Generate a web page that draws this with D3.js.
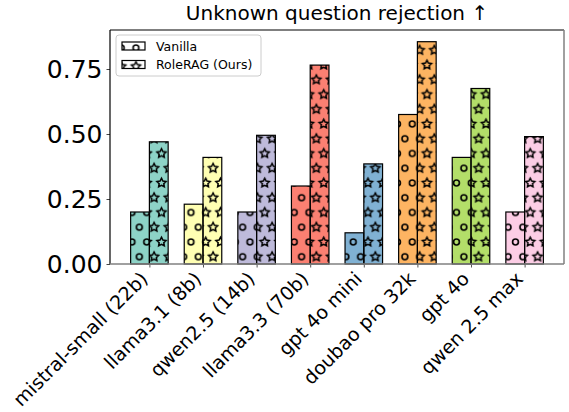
<!DOCTYPE html>
<html>
<head>
<meta charset="utf-8">
<script src="https://cdn.jsdelivr.net/npm/d3@7"></script>
<style>
  body { margin: 0; background: #fff; }
  svg { font-family: "DejaVu Sans", sans-serif; display: block; }
</style>
</head>
<body>
<div class="curr-graff"></div>
<script>
const models = ["mistral-small (22b)", "llama3.1 (8b)", "qwen2.5 (14b)", "llama3.3 (70b)",
                "gpt 4o mini", "doubao pro 32k", "gpt 4o", "qwen 2.5 max"];
const vanilla = [0.20, 0.23, 0.20, 0.30, 0.12, 0.575, 0.41, 0.20];
const roleRag = [0.47, 0.41, 0.495, 0.765, 0.385, 0.855, 0.675, 0.49];
const barColors = ["#8dd3c7", "#ffffb3", "#bebada", "#fb8072", "#80b1d3", "#fdb462", "#b3de69", "#fccde5"];
const seriesNames = ["Vanilla", "RoleRAG (Ours)"];
const yTicks = [0, 0.25, 0.5, 0.75];
const chartTitle = "Unknown question rejection \u2191";

function DrawChart() {
    const width = 569;
    const height = 412;
    const margin = {left: 110, right: 5, top: 30, bottom: 148};
    const barW = 0.35;
    const step = 14.75; // hatch spacing in px

    const svg = d3.select(".curr-graff")
      .append("svg")
      .attr("width", width)
      .attr("height", height);

    const x = d3.scaleLinear()
      .domain([-0.735, models.length - 1 + 0.735])
      .range([margin.left, width - margin.right]);
    const y = d3.scaleLinear()
      .domain([0, 0.9])
      .range([height - margin.bottom, margin.top]);

    // hatch patterns, same grid for both
    const defs = svg.append("defs");
    const ox = 419.6, oy = 50.25;
    const pts = [[0, 0], [step, 0], [0, 2 * step], [step, 2 * step], [step / 2, step]];

    const pO = defs.append("pattern")
      .attr("id", "hatch-o")
      .attr("patternUnits", "userSpaceOnUse")
      .attr("x", ox).attr("y", oy)
      .attr("width", step).attr("height", 2 * step);
    pO.selectAll("circle").data(pts).enter().append("circle")
      .attr("cx", d => d[0]).attr("cy", d => d[1])
      .attr("r", 2.9)
      .attr("fill", "none")
      .attr("stroke", "#000")
      .attr("stroke-width", 1.6);

    const R = 4.8;
    const starPts = d3.range(10).map(k => {
        const a = -Math.PI / 2 + k * Math.PI / 5;
        const r = k % 2 === 0 ? R : R * 0.5;
        return [r * Math.cos(a), r * Math.sin(a)];
    });
    const starPath = "M" + starPts.map(p => p[0].toFixed(2) + "," + p[1].toFixed(2)).join("L") + "Z";

    const pS = defs.append("pattern")
      .attr("id", "hatch-star")
      .attr("patternUnits", "userSpaceOnUse")
      .attr("x", ox).attr("y", oy)
      .attr("width", step).attr("height", 2 * step);
    pS.selectAll("path").data(pts).enter().append("path")
      .attr("transform", d => `translate(${d[0]},${d[1]})`)
      .attr("d", starPath)
      .attr("fill", "none")
      .attr("stroke", "#000")
      .attr("stroke-width", 1.5)
      .attr("stroke-linejoin", "miter");

    const hatches = ["url(#hatch-o)", "url(#hatch-star)"];

    // bars
    const bars = [];
    models.forEach((m, i) => {
        bars.push({i: i, x0: i - barW, v: vanilla[i], s: 0});
        bars.push({i: i, x0: i, v: roleRag[i], s: 1});
    });

    const g = svg.append("g");
    g.selectAll("rect.fill")
      .data(bars)
      .enter()
      .append("rect")
      .attr("class", "fill")
      .attr("x", d => x(d.x0))
      .attr("y", d => y(d.v))
      .attr("width", d => x(d.x0 + barW) - x(d.x0))
      .attr("height", d => y(0) - y(d.v))
      .attr("fill", d => barColors[d.i]);
    g.selectAll("rect.hatch")
      .data(bars)
      .enter()
      .append("rect")
      .attr("class", "hatch")
      .attr("x", d => x(d.x0))
      .attr("y", d => y(d.v))
      .attr("width", d => x(d.x0 + barW) - x(d.x0))
      .attr("height", d => y(0) - y(d.v))
      .attr("fill", d => hatches[d.s])
      .attr("stroke", "#000")
      .attr("stroke-width", 1.2);

    // axes
    const yAxis = svg.append("g")
      .attr("transform", `translate(${margin.left},0)`)
      .call(d3.axisLeft(y).tickValues(yTicks).tickFormat(d3.format(".2f")).tickSize(3.5).tickPadding(4));
    yAxis.select(".domain").remove();
    yAxis.selectAll(".tick line").attr("stroke", "#444");
    yAxis.selectAll("text")
      .attr("font-size", 25)
      .attr("font-family", "DejaVu Sans")
      .attr("fill", "#000");

    const xAxis = svg.append("g")
      .attr("transform", `translate(0,${y(0)})`)
      .call(d3.axisBottom(x).tickValues(d3.range(models.length)).tickFormat(i => models[i]).tickSize(3.5));
    xAxis.select(".domain").remove();
    xAxis.selectAll(".tick line").attr("stroke", "#555");
    xAxis.selectAll("text")
      .attr("font-size", 19)
      .attr("font-family", "DejaVu Sans")
      .attr("fill", "#000")
      .attr("text-anchor", "end")
      .attr("dy", null)
      .attr("y", 0)
      .attr("transform", "translate(-1,16) rotate(-45)");

    // frame: top/left dark, right/bottom grey
    const L = margin.left, Rr = width - margin.right, T = y(0.9), B = y(0);
    svg.append("line").attr("x1", L).attr("x2", Rr).attr("y1", T).attr("y2", T)
      .attr("stroke", "#000").attr("stroke-width", 1.2);
    svg.append("line").attr("x1", L).attr("x2", L).attr("y1", T).attr("y2", B)
      .attr("stroke", "#000").attr("stroke-width", 1.2);
    svg.append("line").attr("x1", Rr).attr("x2", Rr).attr("y1", T).attr("y2", B)
      .attr("stroke", "#808080").attr("stroke-width", 1.5);
    svg.append("line").attr("x1", L).attr("x2", Rr).attr("y1", B).attr("y2", B)
      .attr("stroke", "#808080").attr("stroke-width", 1.5);

    // title
    svg.append("text")
      .attr("x", (L + Rr) / 2)
      .attr("y", 20)
      .attr("text-anchor", "middle")
      .attr("font-size", 20)
      .text(chartTitle);

    // legend
    const lg = svg.append("g").attr("transform", "translate(116,35)");
    lg.append("rect")
      .attr("width", 145).attr("height", 41)
      .attr("rx", 3)
      .attr("fill", "#fff").attr("fill-opacity", 0.8)
      .attr("stroke", "#ccc");
    seriesNames.forEach((name, k) => {
        const row = lg.append("g").attr("transform", `translate(6,${7 + k * 18.5})`);
        row.append("rect").attr("width", 23).attr("height", 8).attr("fill", "#fff");
        row.append("rect").attr("width", 23).attr("height", 8)
          .attr("fill", hatches[k]).attr("stroke", "#000").attr("stroke-width", 1.2);
        row.append("text")
          .attr("x", 34).attr("y", 8.5)
          .attr("font-size", 12.5)
          .text(name);
    });
}

DrawChart();
</script>
</body>
</html>
